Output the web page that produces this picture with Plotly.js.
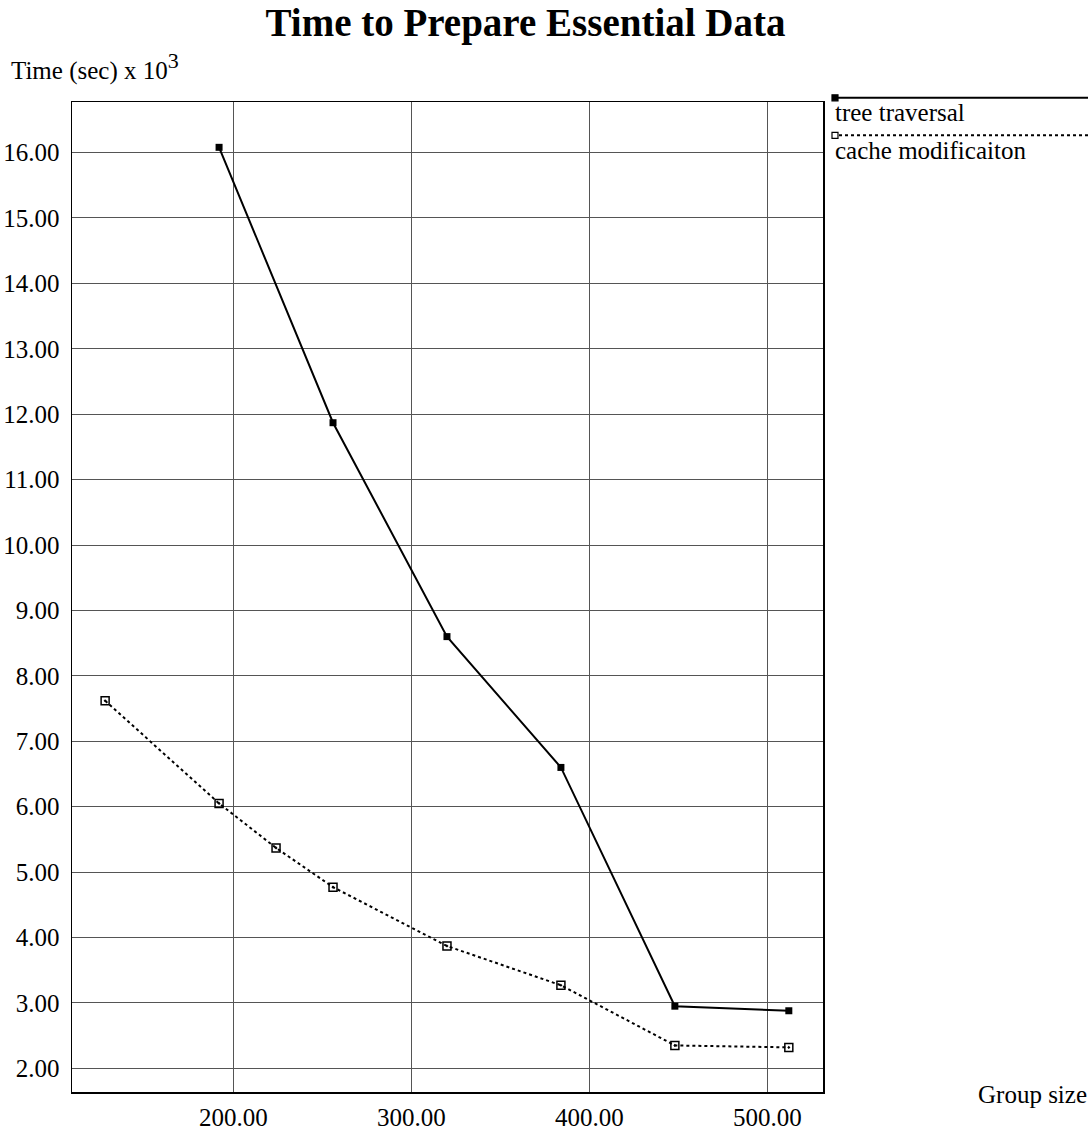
<!DOCTYPE html>
<html>
<head>
<meta charset="utf-8">
<script src="https://cdn.plot.ly/plotly-3.0.1.min.js"></script>
<style>html,body{margin:0;padding:0;background:#fff;}#chart{width:1088px;height:1135px;}</style>
</head>
<body>
<div id="chart"></div>
<script>
const seriesNames = ["tree traversal", "cache modificaiton"];
const treeX = [192, 256, 320, 384, 448, 512];
const treeY = [16.08, 11.87, 8.60, 6.60, 2.95, 2.88];
const cacheX = [128, 192, 224, 256, 320, 384, 448, 512];
const cacheY = [7.62, 6.05, 5.37, 4.77, 3.87, 3.27, 2.35, 2.32];
const chartTitle = "Time to Prepare Essential Data";
const yTitle = "Time (sec) x 10<sup><span style=\"font-size:22px\">3</span></sup>";
const xTitle = "Group size";

const FONT = "Liberation Serif";

const traces = [
  {x: treeX, y: treeY, name: seriesNames[0], mode: "lines+markers",
   line: {color: "#000", width: 2},
   marker: {symbol: "square", size: 7, color: "#000"}},
  {x: cacheX, y: cacheY, name: seriesNames[1], mode: "lines+markers",
   line: {color: "#000", width: 2, dash: "dot"},
   marker: {symbol: "square-open-dot", size: 8, color: "#000", line: {width: 1.5, color: "#000"}}}
];

const pw = 751.3, ph = 990.3, pl = 71.7, pb = 1092;
const px = v => (v - pl) / pw;
const py = v => (pb - v) / ph;
const legY = [97.5, 135];
const shapes = [];
legY.forEach((yy, i) => {
  shapes.push({type: "line", xref: "paper", yref: "paper", x0: px(833), x1: px(1090), y0: py(yy), y1: py(yy),
    line: {color: "#000", width: 2, dash: i === 0 ? "solid" : "dot"}});
  shapes.push({type: "rect", xref: "paper", yref: "paper", x0: px(832), x1: px(838), y0: py(yy + 3), y1: py(yy - 3),
    line: {color: "#000", width: 1.2}, fillcolor: i === 0 ? "#000" : "#fff"});
});

const annFont = {family: FONT, size: 25, color: "#000"};
const annotations = [
  {text: seriesNames[0], xref: "paper", yref: "paper", x: px(833), y: py(112), xanchor: "left", yanchor: "middle", showarrow: false, font: annFont},
  {text: seriesNames[1], xref: "paper", yref: "paper", x: px(833), y: py(150), xanchor: "left", yanchor: "middle", showarrow: false, font: annFont},
  {text: yTitle, xref: "paper", yref: "paper", x: px(9), y: py(66), xanchor: "left", yanchor: "middle", showarrow: false, font: annFont},
  {text: xTitle, xref: "paper", yref: "paper", x: px(1089), y: py(1095), xanchor: "right", yanchor: "middle", showarrow: false, font: annFont}
];

const layout = {
  width: 1088, height: 1135,
  margin: {l: 71.7, r: 1088 - 823, t: 101.7, b: 1135 - 1092},
  paper_bgcolor: "#fff", plot_bgcolor: "#fff",
  font: {family: FONT, size: 25, color: "#000"},
  showlegend: false,
  title: {text: "<b>" + chartTitle + "</b>", font: {family: FONT, size: 39, color: "#000"},
    x: 525.5 / 1088, xref: "container", xanchor: "center", y: 1 - 22 / 1135, yref: "container", yanchor: "middle"},
  xaxis: {range: [109.4, 531.2], dtick: 100, tick0: 0, tickformat: ".2f",
    showgrid: true, gridcolor: "#555", gridwidth: 1, zeroline: false,
    showline: true, linecolor: "#000", linewidth: 1.5, mirror: true,
    ticks: "", ticklabelstandoff: 2, tickfont: {family: FONT, size: 25, color: "#000"}},
  yaxis: {range: [1.638, 16.773], dtick: 1, tick0: 0, tickformat: ".2f",
    showgrid: true, gridcolor: "#555", gridwidth: 1, zeroline: false,
    showline: true, linecolor: "#000", linewidth: 1.5, mirror: true,
    ticks: "", ticklabelstandoff: 6, tickfont: {family: FONT, size: 25, color: "#000"}},
  shapes: shapes,
  annotations: annotations
};

Plotly.newPlot("chart", traces, layout, {staticPlot: true, displayModeBar: false});
</script>
</body>
</html>
